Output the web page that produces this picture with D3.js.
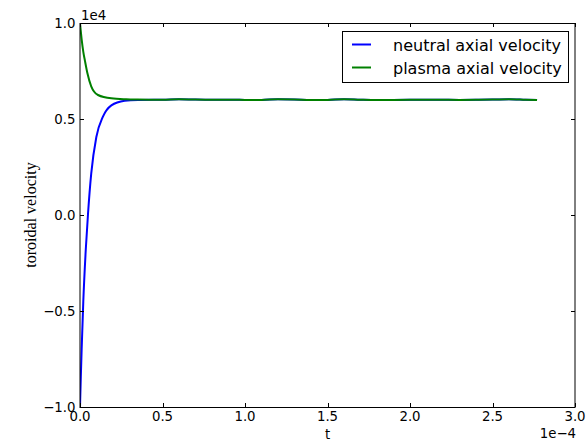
<!DOCTYPE html>
<html>
<head>
<meta charset="UTF-8">
<script src="https://cdn.jsdelivr.net/npm/d3@7"></script>
<style>
  body { margin: 0; background: #fff; }
  text { font-family: "DejaVu Sans", sans-serif; }
</style>
</head>
<body>
<svg id="chart" width="588" height="443"></svg>
<script>
// time in units of 1e-4, velocity in raw units
var neutralT = [0, 0.005, 0.01, 0.02, 0.035, 0.0485, 0.068, 0.099, 0.139, 0.19, 0.271, 0.352, 0.45];
var neutralV = [-10000, -8420, -7000, -4500, -1800, 50, 2150, 4060, 5120, 5710, 5950, 5995, 6005];
var plasmaT = [0, 0.01, 0.02, 0.03, 0.045, 0.068, 0.109, 0.19, 0.28, 0.35, 0.45];
var plasmaV = [10000, 9150, 8500, 8030, 7380, 6700, 6250, 6075, 6030, 6015, 6005];
// both series settle to the same wavy level
var tailT = [0.5, 0.6, 0.7, 0.8, 0.9, 1.0, 1.1, 1.2, 1.3, 1.4, 1.5, 1.6, 1.7, 1.8, 1.9, 2.0, 2.1, 2.2, 2.3, 2.4, 2.5, 2.6, 2.7, 2.77];
var tailV = [6000, 6030, 6010, 6000, 6000, 5995, 5990, 6030, 6020, 5990, 5995, 6030, 6005, 5990, 5995, 6000, 6005, 6000, 5995, 6000, 6010, 6035, 6005, 5985];

var xTicks = [0, 0.5, 1.0, 1.5, 2.0, 2.5, 3.0];
var yTicks = [-1.0, -0.5, 0.0, 0.5, 1.0];
var seriesNames = ["neutral axial velocity", "plasma axial velocity"];
var seriesColors = ["#0000ff", "#008000"];

var pLeft = 80, pRight = 575, pTop = 23, pBottom = 407;
var svg = d3.select("#chart");

var x = d3.scaleLinear().domain([0, 3]).range([pLeft, pRight]);
var y = d3.scaleLinear().domain([-1e4, 1e4]).range([pBottom, pTop]);

function toPts(ts, vs) {
    var pts = ts.map(function (t, i) { return [t, vs[i]]; });
    return pts.concat(tailT.map(function (t, i) { return [t, tailV[i]]; }));
}
var series = [toPts(neutralT, neutralV), toPts(plasmaT, plasmaV)];

var line = d3.line()
    .x(function (d) { return x(d[0]); })
    .y(function (d) { return y(d[1]); })
    .curve(d3.curveMonotoneX);

svg.append("clipPath").attr("id", "clip")
    .append("rect").attr("x", pLeft).attr("y", pTop)
    .attr("width", pRight - pLeft).attr("height", pBottom - pTop);

svg.append("g").attr("clip-path", "url(#clip)")
    .selectAll("path").data(series).enter().append("path")
    .attr("d", line)
    .attr("fill", "none")
    .attr("stroke", function (d, i) { return seriesColors[i]; })
    .attr("stroke-width", 2);

// frame
svg.append("rect")
    .attr("x", pLeft).attr("y", pTop + 0.5)
    .attr("width", pRight - pLeft).attr("height", pBottom - pTop)
    .attr("fill", "none").attr("stroke", "#000").attr("stroke-width", 1);

// ticks (inward, on all four sides)
var tk = 4;
xTicks.forEach(function (t) {
    var px = Math.round(x(t)) + 0.5;
    svg.append("line").attr("x1", px).attr("x2", px).attr("y1", pBottom).attr("y2", pBottom - tk).attr("stroke", "#000");
    svg.append("line").attr("x1", px).attr("x2", px).attr("y1", pTop).attr("y2", pTop + tk).attr("stroke", "#000");
    svg.append("text").attr("x", x(t)).attr("y", 421)
        .attr("text-anchor", "middle").attr("font-size", 13.3)
        .text(t.toFixed(1));
});
yTicks.forEach(function (v) {
    var py = Math.round(y(v * 1e4)) + 0.5;
    svg.append("line").attr("x1", pLeft).attr("x2", pLeft + tk).attr("y1", py).attr("y2", py).attr("stroke", "#000");
    svg.append("line").attr("x1", pRight).attr("x2", pRight - tk).attr("y1", py).attr("y2", py).attr("stroke", "#000");
    svg.append("text").attr("x", 75.5).attr("y", y(v * 1e4) + 5)
        .attr("text-anchor", "end").attr("font-size", 13.3)
        .text(v.toFixed(1).replace("-", "\u2212"));
});

// offset texts
svg.append("text").attr("x", pLeft + 1).attr("y", 20).attr("font-size", 13.3).text("1e4");
svg.append("text").attr("x", pRight + 1).attr("y", 438).attr("text-anchor", "end").attr("font-size", 13.3).text("1e\u22124");

// axis labels
svg.append("text").attr("x", x(1.5)).attr("y", 439).attr("text-anchor", "middle")
    .attr("font-size", 13.3).text("t");
svg.append("text")
    .attr("transform", "translate(36," + ((pTop + pBottom) / 2) + ") rotate(-90)")
    .attr("text-anchor", "middle")
    .style("font-family", "'Liberation Serif', 'Times New Roman', serif")
    .attr("font-size", 16).text("toroidal velocity");

// legend
var lg = svg.append("g");
lg.append("rect").attr("x", 342.5).attr("y", 31.5).attr("width", 226).attr("height", 51)
    .attr("fill", "#fff").attr("stroke", "#000").attr("stroke-width", 1);
seriesNames.forEach(function (name, i) {
    var ly = 44.5 + i * 23;
    lg.append("line").attr("x1", 352).attr("x2", 371).attr("y1", ly).attr("y2", ly)
        .attr("stroke", seriesColors[i]).attr("stroke-width", 2);
    lg.append("text").attr("x", 393).attr("y", ly + 6).attr("font-size", 16).text(name);
});
</script>
</body>
</html>
